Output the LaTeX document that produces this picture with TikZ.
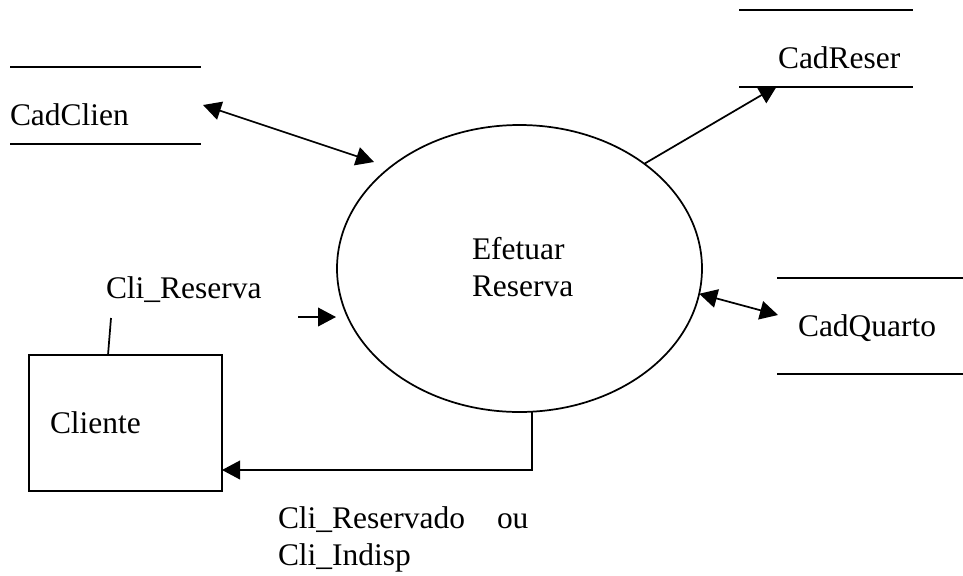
\documentclass[tikz,border=0pt]{standalone}
\usepackage{fontspec}
\setmainfont{Liberation Serif}
\usetikzlibrary{arrows.meta,shapes.geometric}
\begin{document}
\begin{tikzpicture}[x=0.75pt,y=-0.75pt,
  every node/.style={inner sep=0pt, outer sep=0pt},
  lbl/.style={anchor=base west, font=\fontsize{23.6}{27.75}\selectfont},
  flow/.style={line width=1.3pt, line cap=butt},
  head/.tip={Triangle[length=13.5pt,width=14pt]},
  store/.style={rectangle, draw=none, minimum width=#1},
  process/.style={ellipse, draw, line width=1.3pt,
    minimum width=273.75pt, minimum height=215.25pt},
  entity/.style={rectangle, draw, line width=1.3pt,
    minimum width=144.75pt, minimum height=102pt}
]
\useasboundingbox (0,0) rectangle (963,575);

% data stores (two horizontal lines each)
\node[store=143.25pt, minimum height=57.75pt] (cadclien) at (105.5,105.5) {};
\node[store=130.5pt,  minimum height=57.75pt] (cadreser) at (826,48.5) {};
\node[store=139.5pt,  minimum height=72pt]    (cadquarto) at (870,326) {};
\foreach \s in {cadclien,cadreser,cadquarto}{
  \draw[flow] (\s.north west) -- (\s.north east);
  \draw[flow] (\s.south west) -- (\s.south east);
}
\node[lbl] (tclien)   at (10,125)  {CadClien};
\node[lbl] (treser)   at (778,68)  {CadReser};
\node[lbl] (tquarto)  at (798,336) {CadQuarto};

% process
\node[process] (proc) at (519.5,268.5) {};
\node[lbl] (tproc1) at (472,259) {Efetuar};
\node[lbl] (tproc2) at (472,296) {Reserva};

% external entity
\node[entity] (cliente) at (125.5,423) {};
\node[lbl] (tcliente) at (50,433) {Cliente};

% flow labels
\node[lbl] (treserva) at (106,298) {Cli\_Reserva};
\node[lbl] (tret1) at (278,528) {Cli\_Reservado};
\node[lbl] (tret2) at (497,528) {ou};
\node[lbl] (tret3) at (278,565) {Cli\_Indisp};

% free ends of the flows
\coordinate (clienEnd)  at (374,162);
\coordinate (clienBeg)  at (203,105);
\coordinate (reserEnd)  at (777,86);
\coordinate (quartoEnd) at (778,315);
\coordinate (resIn1)    at (298,317);
\coordinate (resIn2)    at (336,317);
\coordinate (labFoot)   at (111,318);
\coordinate (cliTop)    at (108,355);
\coordinate (retLevel)  at (0,470);

% flows
\draw[flow, head-head] (clienBeg) -- (clienEnd);
\draw[flow, -head] (proc.40.6) -- (reserEnd);
\draw[flow, head-head] (proc.-8.9) -- (quartoEnd);
\draw[flow, -head] (resIn1) -- (resIn2);
\draw[flow] (labFoot) -- (cliTop);
\draw[flow, -head] (proc.-85.8) |- (cliente.east |- retLevel);
\end{tikzpicture}
\end{document}
